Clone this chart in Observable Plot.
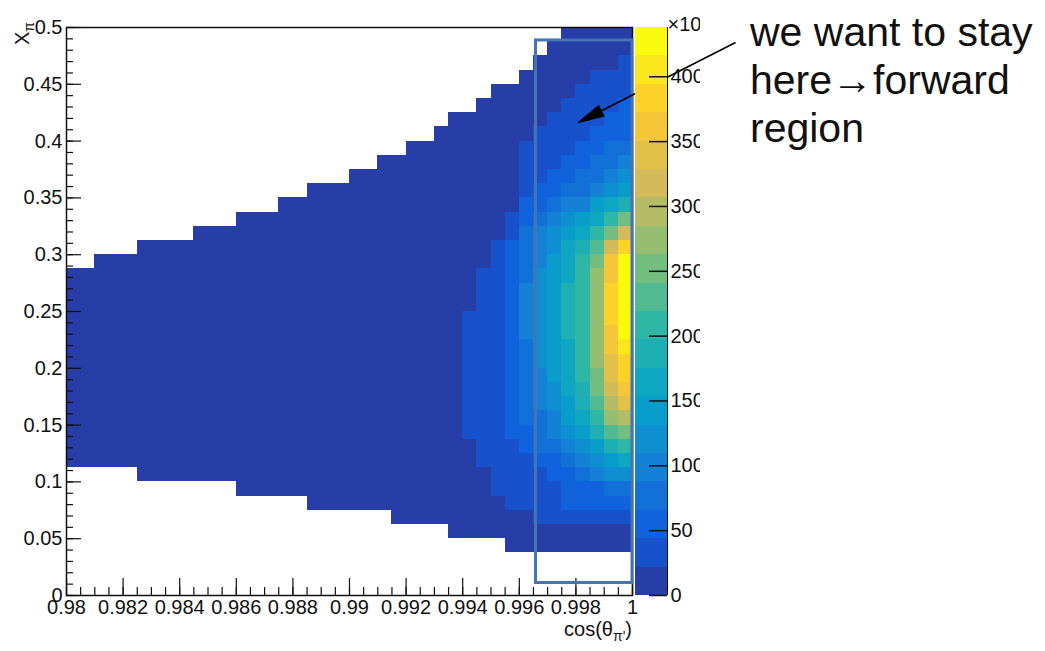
<!DOCTYPE html>
<html>
<head>
<meta charset="utf-8">
<script src="https://cdn.jsdelivr.net/npm/d3@7"></script>
<script src="https://cdn.jsdelivr.net/npm/@observablehq/plot@0.6"></script>
<style>
  body { margin: 0; background: #fff; }
  #wrap { position: relative; width: 1045px; height: 651px; overflow: hidden;
          font-family: 'Liberation Sans', Arial, Helvetica, sans-serif; color: #111; }
  #main { position: absolute; left: 0; top: 0; }
  #zbar { position: absolute; left: 635px; top: 0; width: 65px; height: 651px; overflow: hidden; }
  #ytitle { position: absolute; left: 12px; top: 45px; transform: rotate(-90deg); transform-origin: 0 0;
            font-size: 20px; line-height: 20px; white-space: nowrap; }
  #xtitle { position: absolute; right: 413px; top: 619px; font-size: 20px; line-height: 20px; white-space: nowrap; }
  sub { font-size: 14px; vertical-align: -5px; line-height: 0; }
  #note { position: absolute; left: 750px; top: 8px; font-size: 41px; line-height: 48px; white-space: nowrap; color: #111; }
</style>
</head>
<body>
<div id="wrap">
  <div id="main"></div>
  <div id="zbar"></div>
  <div id="ytitle">X<sub>π</sub></div>
  <div id="xtitle">cos(θ<sub>π'</sub>)</div>
  <div id="note">we want to stay<br>here→forward<br>region</div>
</div>
<script>
// ---------------- data ----------------
const xLow = 0.98, xHigh = 1.0, nBinsX = 40;   // cos(theta) bins
const yLow = 0, yHigh = 0.5, nBinsY = 40;      // X bins
const zMax = 438;                              // top of the colour axis (x10^n)
const nLevels = 20;                            // ROOT contour levels

// contour level of every bin; rows from top (y bin 39) to bottom (y bin 0)
// '.' = empty bin, 0-9 then a-j = level 0..19   (groups of 10 bins separated by |)
const levelRows = [
  "..........|..........|..........|.....00000",
  "..........|..........|..........|....000000",
  "..........|..........|..........|...0000001",
  "..........|..........|..........|..00000111",
  "..........|..........|..........|0000001111",
  "..........|..........|.........0|0000011112",
  "..........|..........|.......000|0000111122",
  "..........|..........|......0000|0001111222",
  "..........|..........|....000000|0011112233",
  "..........|..........|..00000000|0011122334",
  "..........|..........|0000000000|0011223345",
  "..........|.......000|0000000000|0012233456",
  "..........|.....00000|0000000000|0022344678",
  "..........|..00000000|0000000000|012345679b",
  ".........0|0000000000|0000000000|01345679be",
  ".....00000|0000000000|0000000000|1234578aeh",
  "..00000000|0000000000|0000000000|1234679bgj",
  "0000000000|0000000000|0000000001|1235679cgj",
  "0000000000|0000000000|0000000001|1245689chj",
  "0000000000|0000000000|0000000001|1245689chj",
  "0000000000|0000000000|0000000011|1245689chj",
  "0000000000|0000000000|0000000011|1245689cgj",
  "0000000000|0000000000|0000000011|1235679cgi",
  "0000000000|0000000000|0000000011|1235679cfh",
  "0000000000|0000000000|0000000011|1234679bfh",
  "0000000000|0000000000|0000000011|1234578beg",
  "0000000000|0000000000|0000000011|1234568adf",
  "0000000000|0000000000|0000000011|12334679cd",
  "0000000000|0000000000|0000000011|12234568ab",
  "0000000000|0000000000|0000000001|1123345689",
  "0000000000|0000000000|0000000001|1112234567",
  ".....00000|0000000000|0000000000|1111223455",
  "..........|..00000000|0000000000|1111122233",
  "..........|.......000|0000000000|0111122222",
  "..........|..........|...0000000|0001111111",
  "..........|..........|.......000|0000000000",
  "..........|..........|..........|.000000000",
  "..........|..........|..........|..........",
  "..........|..........|..........|..........",
  "..........|..........|..........|.........."
];

const xTicks = [0.98, 0.982, 0.984, 0.986, 0.988, 0.99, 0.992, 0.994, 0.996, 0.998, 1];
const yTicks = [0, 0.05, 0.1, 0.15, 0.2, 0.25, 0.3, 0.35, 0.4, 0.45, 0.5];
const zTicks = [0, 50, 100, 150, 200, 250, 300, 350, 400];

// ROOT kBird palette stops
const birdStops = [0, 0.125, 0.25, 0.375, 0.5, 0.625, 0.75, 0.875, 1];
const birdR = [0.2082, 0.0592, 0.0780, 0.0232, 0.1802, 0.5301, 0.8186, 0.9956, 0.9764];
const birdG = [0.1664, 0.3599, 0.5041, 0.6419, 0.7178, 0.7492, 0.7328, 0.7862, 0.9832];
const birdB = [0.5293, 0.8684, 0.8385, 0.7914, 0.6425, 0.4662, 0.3499, 0.1968, 0.0539];

// annotations (data coordinates)
const forwardBox = {x1: 0.99659, x2: 1.0, y1: 0.011, y2: 0.4886};
const arrow = {x1: 1.00364, y1: 0.4868, x2: 0.99809, y2: 0.4164};

// ---------------- build ----------------
const W = 1045, H = 651, mL = 66, mR = 413, mT = 27, mB = 56;
const frameW = W - mL - mR, frameH = H - mT - mB;

const birdColors = birdStops.map((s, i) =>
  d3.rgb(birdR[i] * 255, birdG[i] * 255, birdB[i] * 255).formatHex());
const bird = d3.scaleLinear().domain(birdStops).range(birdColors).interpolate(d3.interpolateRgb);
const levelColors = d3.range(nLevels).map(j => bird(Math.floor((j + 0.99) * 255 / nLevels) / 254));
const thresholds = d3.range(1, nLevels).map(j => j * zMax / nLevels);

const bwX = (xHigh - xLow) / nBinsX, bwY = (yHigh - yLow) / nBinsY;
const cells = [];
levelRows.forEach((row, r) => {
  const s = row.replaceAll("|", "");
  if (s.length !== nBinsX) throw new Error("row " + r + " has " + s.length + " bins");
  const k = nBinsY - 1 - r;
  for (let i = 0; i < nBinsX; i++) {
    const ch = s[i];
    if (ch === ".") continue;
    const level = parseInt(ch, 36);
    cells.push({
      x1: xLow + i * bwX, x2: xLow + (i + 1) * bwX,
      y1: yLow + k * bwY, y2: yLow + (k + 1) * bwY,
      count: (level + 0.5) * zMax / nLevels
    });
  }
});

const xMinor = d3.range(0, 41).map(i => xLow + i * 0.0005);
const yMinor = d3.range(0, 51).map(i => i * 0.01);
const fmt = d3.format("~g");

const xs = Plot.scale({x: {domain: [xLow, xHigh], range: [mL, W - mR]}});
const ys = Plot.scale({y: {domain: [yLow, yHigh], range: [H - mB, mT]}});
const adx = xs.apply(arrow.x2) - xs.apply(arrow.x1);
const ady = ys.apply(arrow.y2) - ys.apply(arrow.y1);
const headAngle = Math.atan2(adx, -ady) * 180 / Math.PI;

const baseStyle = {fontFamily: "'Liberation Sans', Arial, Helvetica, sans-serif", fontSize: "20px",
                   color: "#111", background: "transparent", overflow: "visible"};

const main = Plot.plot({
  width: W, height: H,
  marginLeft: mL, marginRight: mR, marginTop: mT, marginBottom: mB,
  style: baseStyle,
  x: {domain: [xLow, xHigh]},
  y: {domain: [yLow, yHigh]},
  color: {type: "threshold", domain: thresholds, range: levelColors},
  marks: [
    Plot.rect(cells, {x1: "x1", x2: "x2", y1: "y1", y2: "y2", fill: "count", shapeRendering: "crispEdges"}),
    Plot.tickY(yMinor, {y: d => d, insetRight: frameW - 7, stroke: "#111", strokeWidth: 1.2}),
    Plot.tickY(yTicks, {y: d => d, insetRight: frameW - 15, stroke: "#111", strokeWidth: 1.2}),
    Plot.tickX(xMinor, {x: d => d, insetTop: frameH - 8, stroke: "#111", strokeWidth: 1.2}),
    Plot.tickX(xTicks, {x: d => d, insetTop: frameH - 17, stroke: "#111", strokeWidth: 1.2}),
    Plot.axisX({ticks: xTicks, tickSize: 0, tickPadding: 4, tickFormat: fmt, fontSize: 20, label: null}),
    Plot.axisY({ticks: yTicks, tickSize: 0, tickPadding: 4, tickFormat: fmt, fontSize: 20, label: null}),
    Plot.frame({stroke: "#111", strokeWidth: 1.5}),
    Plot.rect([forwardBox], {x1: "x1", x2: "x2", y1: "y1", y2: "y2", fill: "none", stroke: "#4673b3", strokeWidth: 3}),
    Plot.link([arrow], {x1: "x1", y1: "y1", x2: "x2", y2: "y2", stroke: "#000", strokeWidth: 1.6}),
    Plot.vector([arrow], {x: "x2", y: "y2", length: 26, rotate: headAngle, anchor: "end",
                          shape: "spike", r: 6, fill: "#000", stroke: "#000", strokeWidth: 1})
  ]
});
document.getElementById("main").append(main);

const bands = d3.range(nLevels).map(j => ({lo: j * zMax / nLevels, hi: (j + 1) * zMax / nLevels, color: levelColors[j]}));
const barW = 32;
const zbar = Plot.plot({
  width: 65, height: H,
  marginLeft: 0, marginRight: 65 - barW, marginTop: mT, marginBottom: mB,
  style: baseStyle,
  x: {domain: [0, 1], axis: null},
  y: {domain: [0, zMax], axis: null},
  color: {type: "identity"},
  marks: [
    Plot.rect(bands, {x1: 0, x2: 1, y1: "lo", y2: "hi", fill: "color", shapeRendering: "crispEdges"}),
    Plot.tickY(zTicks, {y: d => d, insetLeft: barW - 18, stroke: "#111", strokeWidth: 1.5}),
    Plot.ruleX([1], {stroke: "#111", strokeWidth: 1}),
    Plot.axisY({anchor: "right", ticks: zTicks, tickSize: 0, tickPadding: 3, tickFormat: d3.format("d"), fontSize: 20, label: null}),
    Plot.text(["×10"], {frameAnchor: "top-right", textAnchor: "start", dy: -11, fontSize: 20, fill: "#111"})
  ]
});
document.getElementById("zbar").append(zbar);
</script>
</body>
</html>
